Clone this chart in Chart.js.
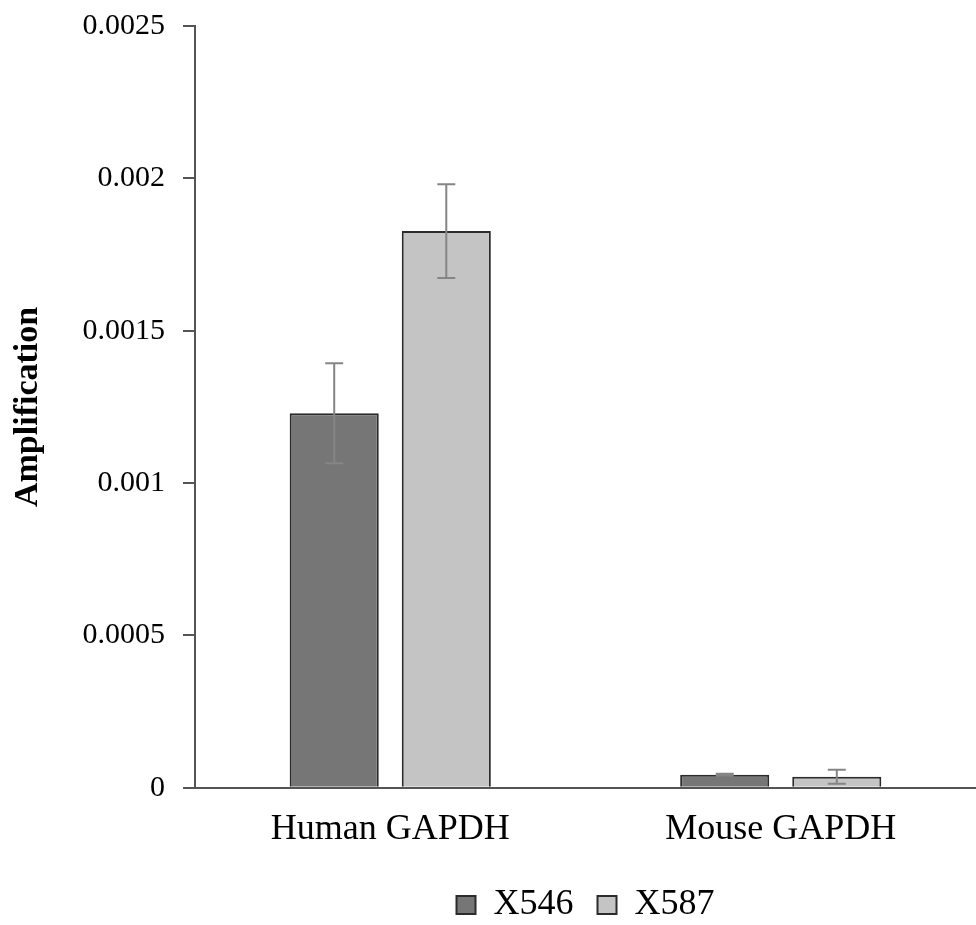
<!DOCTYPE html>
<html>
<head>
<meta charset="utf-8">
<script src="https://cdn.jsdelivr.net/npm/chart.js@4.4.1/dist/chart.umd.min.js"></script>
<style>
  html, body { margin: 0; padding: 0; background: #fff; }
  #wrap { width: 976px; height: 925px; }
</style>
</head>
<body>
<div id="wrap"><canvas id="chart" width="976" height="925"></canvas></div>
<script>
// Dades del gràfic
const categories = ['Human GAPDH', 'Mouse GAPDH'];
const seriesNames = ['X546', 'X587'];
const x546Values = [0.001229, 0.0000427];
const x587Values = [0.001827, 0.0000361];
const x546Errors = [0.000164, 0.000003];
const x587Errors = [0.000154, 0.000023];
const yTickLabels = ['0', '0.0005', '0.001', '0.0015', '0.002', '0.0025'];

const FONT = "'Liberation Serif', 'Times New Roman', serif";

// Dibuixa barres d'error amb les escales del gràfic
const errorBarPlugin = {
    id: 'errorBars',
    afterDatasetsDraw(chart) {
        const ctx = chart.ctx;
        const yScale = chart.scales.y;
        chart.data.datasets.forEach((ds, di) => {
            const meta = chart.getDatasetMeta(di);
            meta.data.forEach((bar, i) => {
                const v = ds.data[i];
                const e = ds.errors[i];
                const yTop = yScale.getPixelForValue(v + e);
                const yBot = yScale.getPixelForValue(v - e);
                const x = bar.x;
                ctx.save();
                ctx.strokeStyle = '#858585';
                ctx.lineWidth = 2;
                ctx.beginPath();
                ctx.moveTo(x, yTop);
                ctx.lineTo(x, yBot);
                ctx.moveTo(x - 9, yTop);
                ctx.lineTo(x + 9, yTop);
                ctx.moveTo(x - 9, yBot);
                ctx.lineTo(x + 9, yBot);
                ctx.stroke();
                ctx.restore();
            });
        });
    }
};

const ctx = document.getElementById('chart').getContext('2d');
new Chart(ctx, {
    type: 'bar',
    data: {
        labels: categories,
        datasets: [{
            label: seriesNames[0],
            data: x546Values,
            errors: x546Errors,
            backgroundColor: '#767676',
            borderColor: '#2b2b2b',
            borderWidth: 2,
            borderSkipped: 'bottom',
            categoryPercentage: 0.574,
            barPercentage: 0.795
        }, {
            label: seriesNames[1],
            data: x587Values,
            errors: x587Errors,
            backgroundColor: '#c4c4c4',
            borderColor: '#2b2b2b',
            borderWidth: 2,
            borderSkipped: 'bottom',
            categoryPercentage: 0.574,
            barPercentage: 0.795
        }]
    },
    options: {
        responsive: false,
        animation: false,
        layout: {
            padding: { top: 26, right: 0, bottom: -8, left: 0 }
        },
        plugins: {
            legend: {
                position: 'bottom',
                fullSize: false,
                labels: {
                    color: '#000',
                    font: { family: FONT, size: 36 },
                    boxWidth: 19,
                    boxHeight: 18,
                    padding: 24
                }
            },
            tooltip: { enabled: false }
        },
        scales: {
            x: {
                grid: { display: false },
                border: { display: true, color: '#555', width: 2 },
                ticks: {
                    color: '#000',
                    font: { family: FONT, size: 36 },
                    padding: 12
                }
            },
            y: {
                min: 0,
                max: 0.0025,
                afterFit(scale) {
                    scale.width = 195;
                    scale.paddingTop = 0;
                    scale.paddingBottom = 0;
                },
                border: { display: true, color: '#555', width: 2 },
                grid: {
                    drawOnChartArea: false,
                    drawTicks: true,
                    tickLength: 12,
                    color: '#555',
                    lineWidth: 2
                },
                ticks: {
                    stepSize: 0.0005,
                    color: '#000',
                    font: { family: FONT, size: 30 },
                    padding: 18,
                    callback: (value, index) => yTickLabels[index]
                },
                title: {
                    display: true,
                    text: 'Amplification',
                    color: '#000',
                    font: { family: FONT, size: 34, weight: 'bold' },
                    padding: { top: 8, bottom: 0 }
                }
            }
        }
    },
    plugins: [errorBarPlugin]
});
</script>
</body>
</html>
